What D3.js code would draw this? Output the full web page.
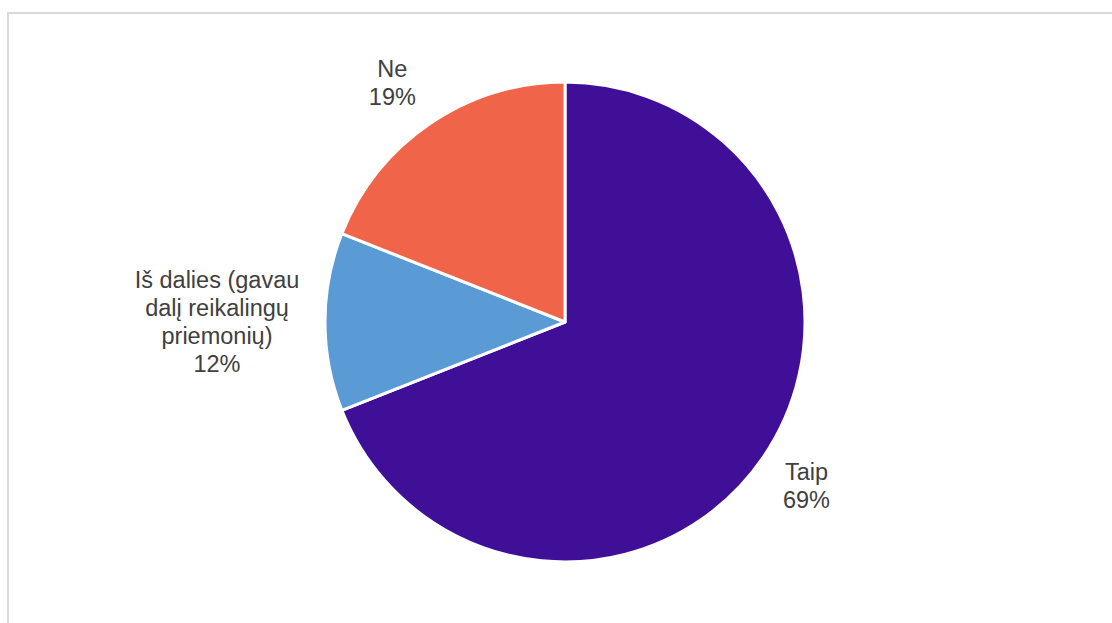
<!DOCTYPE html>
<html><head><meta charset="utf-8">
<script src="https://cdn.jsdelivr.net/npm/d3@7"></script>
<style>html,body{margin:0;padding:0;background:#fff;}svg{display:block;}</style>
</head><body>
<svg id="chart" width="1112" height="623"></svg>
<script>
const categories = ["Taip", "Iš dalies (gavau dalį reikalingų priemonių)", "Ne"];
const labelLines = [["Taip"], ["Iš dalies (gavau", "dalį reikalingų", "priemonių)"], ["Ne"]];
const values = [69, 12, 19];
const colors = ["#3F0F98", "#5B9BD5", "#F0654A"];

const svg = d3.select("#chart");
svg.append("rect").attr("x", 8).attr("y", 13).attr("width", 1120).attr("height", 640)
  .attr("fill", "#fff").attr("stroke", "#d9d9d9").attr("stroke-width", 2);

const cx = 565, cy = 322, R = 240;
const g = svg.append("g").attr("transform", `translate(${cx},${cy})`);
const data = categories.map((c, i) => ({c, v: values[i], lines: labelLines[i], col: colors[i]}));
const pie = d3.pie().sort(null).value(d => d.v).startAngle(0).endAngle(2 * Math.PI);
const arcs = pie(data);
const arc = d3.arc().innerRadius(0).outerRadius(R);

g.selectAll("path").data(arcs).enter().append("path")
  .attr("d", arc).attr("fill", d => d.data.col)
  .attr("stroke", "#fff").attr("stroke-width", 3).attr("stroke-linejoin", "round");

// label placement (Excel best-fit style)
const labelR = [292, 265, 300];
const lineH = 28;
arcs.forEach((a, i) => {
  const mid = (a.startAngle + a.endAngle) / 2;
  let x = Math.sin(mid) * labelR[i], y = -Math.cos(mid) * labelR[i];
  const lines = a.data.lines.concat([a.data.v + "%"]);
  if (i === 1) { x -= 83; }
  if (i === 2) { x -= 4; y += 9; }
  const t = g.append("text").attr("text-anchor", "middle")
    .attr("font-family", "Liberation Sans, Arial, sans-serif").attr("font-size", 23.5)
    .attr("fill", "#404040");
  const n = lines.length;
  lines.forEach((ln, k) => {
    t.append("tspan").attr("x", x).attr("y", y + (k - (n - 1) / 2) * lineH + 8).text(ln);
  });
});
</script>
</body></html>
